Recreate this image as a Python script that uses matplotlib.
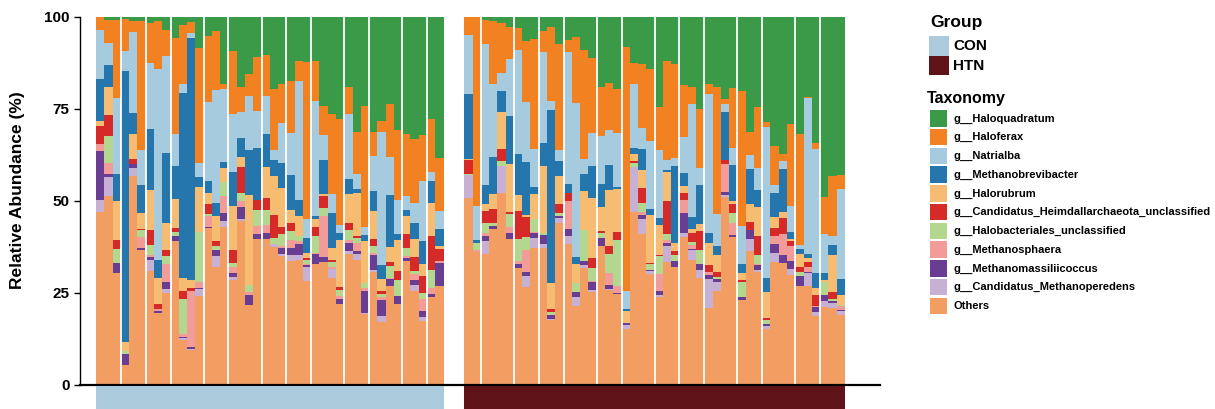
import numpy as np
import matplotlib.pyplot as plt
from matplotlib.patches import Rectangle

plt.rcParams['font.family'] = ['Liberation Sans', 'DejaVu Sans']
plt.rcParams['font.weight'] = 'bold'

# taxa, legend order (top of stack first)
taxa = ['g__Haloquadratum', 'g__Haloferax', 'g__Natrialba', 'g__Methanobrevibacter',
        'g__Halorubrum', 'g__Candidatus_Heimdallarchaeota_unclassified',
        'g__Halobacteriales_unclassified', 'g__Methanosphaera',
        'g__Methanomassiliicoccus', 'g__Candidatus_Methanoperedens', 'Others']
colors = ['#3A9A47', '#F28121', '#A6CBDE', '#2676AE', '#F6BC72', '#D62A28',
          '#B3D78F', '#F19C99', '#693D92', '#C6B1D4', '#F29E63']

groups = ['CON', 'HTN']
group_colors = ['#ABCADB', '#5E1318']
# samples per subject block (white separators between blocks)
con_blocks = [3, 3, 3, 4, 3, 4, 3, 3, 4, 3, 4, 3, 2]
htn_blocks = [2, 4, 3, 3, 4, 3, 4, 3, 3, 4, 3, 4, 3, 3]

# relative abundance (%) per sample: 42 CON followed by 46 HTN
haloquadratum = [0, 0.8, 0.8, 0.5, 1.1, 1.1, 1.6, 1.1, 3.5, 5.7, 2.2, 1.4, 8.4, 5.2, 3.8, 18.2, 9.2, 19.0, 15.5, 10.9, 10.3,
                 19.6, 18.2, 17.4, 12.0, 12.2, 12.0, 24.2, 26.4, 27.7, 19.0, 31.3, 24.2, 31.3, 28.3, 23.6, 30.7, 31.8, 33.2, 32.1, 27.7, 38.3,
                 0, 0, 0.8, 1.1, 1.6, 2.7, 3.0, 6.5, 6.0, 3.8, 2.7, 7.3, 6.3, 5.4, 9.0, 11.1, 19.0, 17.9, 19.6, 8.2, 12.5, 12.8, 14.1,
                 24.5, 12.0, 12.8, 18.5, 19.0, 25.0, 18.2, 19.0, 22.3, 19.3, 20.1, 31.3, 24.5, 28.5, 35.1, 37.2, 29.1, 31.8, 21.7, 34.2, 48.9, 43.2, 42.9]
haloferax = [3.5, 6.3, 21.2, 8.7, 3.0, 35.1, 10.9, 13.0, 7.1, 26.1, 16.0, 3.0, 31.3, 17.9, 16.0, 1.4, 17.1, 6.8, 6.0, 14.7, 11.1,
             16.6, 10.6, 13.9, 5.4, 42.7, 10.9, 7.9, 21.7, 28.8, 7.3, 11.4, 32.9, 6.5, 3.0, 14.4, 19.0, 16.8, 17.4, 12.5, 14.4, 14.4,
             4.9, 51.4, 6.5, 17.1, 13.6, 8.7, 6.0, 16.6, 29.9, 5.7, 20.1, 28.8, 3.3, 17.9, 29.6, 20.4, 13.3, 12.8, 12.0, 66.3, 5.7, 17.4, 19.6,
             11.7, 26.9, 25.5, 14.1, 4.6, 16.0, 2.7, 34.6, 1.4, 16.3, 36.7, 6.3, 16.6, 1.4, 10.6, 1.9, 22.3, 30.2, 0.3, 1.6, 10.1, 16.3, 3.8]
natrialba = [13.3, 6.0, 20.7, 5.4, 22.0, 9.5, 17.9, 51.6, 26.4, 8.7, 2.4, 1.4, 3.8, 21.2, 30.7, 19.8, 15.8, 7.1, 14.7, 10.1, 10.3,
             2.7, 10.9, 11.4, 32.1, 4.9, 31.0, 6.8, 5.2, 2.2, 17.7, 4.1, 2.2, 9.5, 36.1, 10.3, 9.2, 3.8, 5.4, 16.3, 2.4, 4.9,
             16.0, 9.2, 38.3, 19.8, 4.9, 15.5, 28.3, 16.3, 10.3, 24.7, 2.4, 3.0, 35.9, 41.8, 4.1, 9.0, 13.0, 9.5, 14.7, 4.9, 17.4, 5.7, 18.5,
             18.5, 2.7, 2.2, 9.8, 30.7, 4.6, 37.8, 8.7, 2.2, 4.6, 10.3, 3.8, 6.0, 41.0, 2.2, 2.2, 7.1, 1.1, 42.4, 33.7, 10.6, 2.4, 24.5]
methanobrevibacter = [11.4, 6.0, 7.3, 73.6, 5.7, 7.6, 16.6, 4.9, 19.0, 9.0, 50.0, 65.8, 2.7, 3.3, 3.5, 1.6, 9.0, 5.2, 12.2, 14.1, 9.0,
                      4.1, 6.8, 9.5, 4.3, 4.1, 0.8, 9.2, 9.5, 1.9, 4.1, 1.1, 1.6, 5.4, 3.8, 14.1, 1.6, 1.6, 4.3, 6.3, 6.0, 4.6,
                      17.7, 0.8, 5.2, 10.1, 5.7, 13.0, 11.1, 14.4, 1.9, 6.3, 47.0, 4.1, 2.2, 1.9, 4.6, 8.7, 6.3, 6.8, 0.5, 0.5, 1.6, 5.7, 1.6,
                      1.9, 0.5, 20.9, 3.5, 3.3, 10.6, 2.7, 2.4, 13.0, 9.8, 2.4, 9.5, 4.6, 3.8, 6.5, 11.7, 1.9, 1.4, 1.1, 4.1, 1.9, 2.7, 4.3]
halorubrum = [1.4, 7.6, 10.6, 2.4, 6.8, 4.3, 10.9, 7.1, 7.1, 7.9, 3.5, 2.2, 12.2, 3.0, 6.8, 3.8, 12.0, 2.7, 24.5, 0, 8.4,
              10.6, 10.6, 3.5, 5.4, 1.4, 2.2, 0.5, 3.3, 12.8, 7.9, 11.7, 11.4, 7.6, 3.3, 4.1, 8.4, 4.9, 4.9, 3.3, 9.0, 0.8,
              0.3, 0, 1.9, 4.1, 10.1, 13.0, 4.3, 0.5, 6.8, 18.2, 7.1, 7.6, 0, 5.4, 10.6, 16.3, 6.5, 15.2, 11.7, 3.3, 1.9, 4.9, 13.0,
              7.9, 7.9, 2.2, 1.9, 1.1, 1.9, 6.0, 4.6, 0, 0.8, 1.9, 4.9, 7.9, 7.1, 3.0, 1.6, 0.5, 3.5, 1.1, 1.9, 0.5, 10.1, 2.7]
heimdallarchaeota = [4.9, 5.7, 2.4, 0, 1.4, 0.3, 4.1, 1.4, 1.6, 1.1, 2.2, 0.8, 0, 2.7, 1.4, 0, 3.5, 6.8, 0, 2.7, 3.3,
                     6.3, 1.9, 2.4, 0, 0.5, 2.4, 3.3, 0.5, 0.8, 1.9, 0.5, 0, 1.9, 0.8, 1.1, 2.7, 3.8, 3.8, 4.6, 9.2, 3.3,
                     3.8, 0, 3.3, 3.8, 3.3, 0.5, 7.6, 5.4, 0, 0, 0.8, 2.4, 2.4, 0, 0, 2.7, 0.5, 2.2, 2.2, 0, 0.5, 4.1, 0.3,
                     0.5, 9.0, 1.1, 1.9, 2.4, 5.2, 1.9, 1.4, 1.1, 2.4, 0.5, 2.2, 5.2, 0.5, 2.2, 4.3, 1.4, 1.4, 1.4, 3.0, 0, 1.9, 0]
halobacteriales = [0, 7.3, 3.8, 0.8, 0, 1.9, 2.7, 0, 2.2, 1.1, 9.5, 0, 13.6, 0.5, 1.1, 3.8, 1.1, 2.4, 1.9, 4.3, 4.1,
                   1.6, 3.3, 2.2, 1.6, 1.1, 4.6, 2.2, 1.6, 1.6, 2.7, 1.4, 1.4, 1.9, 0.8, 3.3, 4.1, 2.2, 0.8, 1.6, 4.9, 0,
                   0.3, 1.9, 2.7, 0.8, 1.4, 3.8, 6.0, 3.5, 3.5, 0.5, 0.8, 0.8, 0, 2.2, 8.4, 3.5, 1.4, 5.2, 12.5, 0, 1.1, 2.4, 1.6,
                   4.9, 1.6, 1.6, 0, 0.8, 3.8, 0, 0.5, 0, 2.7, 4.3, 0, 2.2, 1.1, 0, 0, 0, 1.1, 0, 0, 3.5, 0.5, 0.3]
methanosphaera = [1.9, 3.0, 0, 0, 0, 3.0, 0.5, 0.5, 4.9, 0, 0.8, 15.2, 1.6, 3.0, 0, 4.6, 1.6, 1.4, 0.8, 2.2, 2.2,
                  0, 0.5, 2.4, 0.8, 0.3, 0.3, 11.1, 0.5, 0.8, 0.8, 2.2, 0.8, 0.5, 0.8, 0.3, 0, 0.5, 1.6, 3.3, 1.6, 0.5,
                  0, 0.5, 0.8, 0, 0, 1.4, 0.8, 6.0, 0.3, 0, 0, 0, 7.6, 0, 0, 0.3, 0, 3.3, 1.9, 0, 0, 0.8, 0,
                  4.6, 0.8, 0, 3.5, 1.1, 0, 0.8, 0, 7.6, 3.3, 0, 0, 0.3, 0, 2.2, 5.7, 4.1, 0, 1.4, 0.3, 0, 0, 1.1]
methanomassiliicoccus = [13.3, 0.8, 2.7, 3.0, 1.1, 0.5, 0.8, 0.5, 1.9, 1.4, 0.3, 0.5, 0.3, 0.5, 1.6, 2.2, 1.1, 3.5, 2.7, 1.4, 1.4,
                         0, 1.6, 1.9, 3.0, 0.5, 2.7, 1.4, 0, 1.4, 2.2, 0.8, 6.0, 4.1, 4.3, 1.9, 2.4, 0.8, 1.4, 1.4, 0.8, 6.3,
                         0, 0, 1.4, 0.8, 0, 1.6, 1.1, 1.1, 1.4, 2.4, 1.1, 0.5, 1.9, 1.6, 1.1, 2.2, 2.2, 1.1, 0.3, 0.5, 0, 1.1, 0.3,
                         1.1, 0.8, 1.6, 5.4, 0.3, 1.6, 1.1, 0.8, 0.8, 0.5, 0.8, 2.2, 1.4, 0.5, 2.2, 2.2, 2.2, 2.7, 0.3, 1.4, 1.6, 0.5, 0.3]
methanoperedens = [3.3, 5.2, 0, 0, 2.2, 0, 3.0, 0, 1.1, 0, 0.5, 0.3, 1.9, 0, 3.0, 1.6, 0.8, 0.3, 0, 0, 0,
                   0.8, 0.5, 1.4, 1.1, 3.8, 0, 0, 2.5, 0, 0.8, 1.6, 0.3, 0.5, 1.6, 0, 0, 0, 1.6, 1.1, 0, 0,
                   6.3, 0, 3.5, 0, 7.3, 0, 0, 3.0, 2.7, 1.1, 0.3, 1.6, 2.2, 2.4, 0.8, 0.5, 0, 0.3, 0, 1.1, 12.2, 4.1, 0.8,
                   0.5, 4.3, 0, 1.1, 2.7, 2.2, 7.9, 2.4, 0.5, 0, 0, 3.3, 0.5, 0.8, 2.7, 0, 1.6, 0, 3.3, 1.1, 1.6, 1.6, 1.1]
others = [47.0, 51.4, 30.4, 5.4, 56.8, 36.7, 31.0, 19.6, 25.0, 39.1, 12.2, 9.5, 24.2, 42.4, 32.1, 42.9, 28.5, 44.6, 21.7, 39.7, 39.7,
          37.5, 35.1, 33.7, 34.0, 28.3, 32.9, 33.4, 29.0, 22.0, 35.6, 33.9, 19.2, 30.8, 17.1, 26.9, 21.9, 33.8, 25.6, 17.5, 24.0, 26.9,
          50.7, 36.2, 35.6, 42.4, 52.1, 39.8, 31.8, 26.7, 37.2, 37.3, 17.7, 43.9, 38.2, 21.4, 31.8, 25.3, 37.8, 25.7, 24.6, 15.2, 47.1, 41.0, 30.2,
          23.8, 33.5, 32.1, 40.3, 34.0, 29.1, 20.9, 25.6, 51.1, 40.3, 23.0, 36.5, 30.8, 15.3, 33.3, 33.2, 29.8, 26.8, 27.0, 18.7, 21.3, 20.8, 19.0]

series = [haloquadratum, haloferax, natrialba, methanobrevibacter, halorubrum, heimdallarchaeota,
          halobacteriales, methanosphaera, methanomassiliicoccus, methanoperedens, others]
vals = np.array(series, dtype=float)
vals = vals / vals.sum(axis=0) * 100  # each sample sums to 100 %

n_con = sum(con_blocks)
n_htn = sum(htn_blocks)
gap = 2.5
xpos = np.concatenate([np.arange(n_con), n_con + gap + np.arange(n_htn)])

W, H = 1215, 409
fig = plt.figure(figsize=(W / 100, H / 100), dpi=100)
ax = fig.add_axes([80 / W, 1 - 385 / H, 800 / W, 368 / H])

bottom = np.zeros(len(xpos))
for k in range(len(taxa) - 1, -1, -1):
    ax.bar(xpos, vals[k], width=1.0, bottom=bottom, align='edge', color=colors[k], linewidth=0)
    bottom += vals[k]

# white separators between subject blocks
for start, blocks in [(0, con_blocks), (n_con + gap, htn_blocks)]:
    for edge in np.cumsum(blocks)[:-1]:
        ax.plot([start + edge] * 2, [0, 100], color='white', lw=1.3)

ax.set_xlim(-16 / 8.26, n_con + gap + n_htn + 35 / 8.26)
ax.set_ylim(0, 100)
ax.set_yticks([0, 25, 50, 75, 100])
ax.tick_params(axis='y', labelsize=11, length=4, width=1)
ax.set_xticks([])
for s in ['top', 'right']:
    ax.spines[s].set_visible(False)
ax.spines['left'].set_linewidth(1)
ax.spines['bottom'].set_linewidth(1.6)
for t in ax.get_yticklabels():
    t.set_fontweight('bold')
fig.text(18 / W, 1 - 190 / H, 'Relative Abundance (%)', rotation=90, ha='center', va='center',
         fontsize=12.5, fontweight='bold')

# group strip under the bars
sx = fig.add_axes([80 / W, 0, 800 / W, 23 / H])
sx.set_xlim(ax.get_xlim())
sx.set_ylim(0, 1)
sx.axis('off')
sx.axvspan(0, n_con, color=group_colors[0], lw=0)
sx.axvspan(n_con + gap, n_con + gap + n_htn, color=group_colors[1], lw=0)

# legends
def px_rect(x, y, w, h, c):
    fig.patches.append(Rectangle((x / W, 1 - (y + h) / H), w / W, h / H, transform=fig.transFigure,
                                 color=c, lw=0))

fig.text(930 / W, 1 - 22 / H, 'Group', fontsize=12.5, fontweight='bold', va='center', ha='left')
for i, g in enumerate(groups):
    px_rect(929, 36 + i * 19.5, 20, 19.5, group_colors[i])
    fig.text(953 / W, 1 - (46 + i * 19.5) / H, g, fontsize=11, fontweight='bold', va='center', ha='left')

fig.text(927 / W, 1 - 98 / H, 'Taxonomy', fontsize=11.5, fontweight='bold', va='center', ha='left')
for i, name in enumerate(taxa):
    y0 = 110 + i * 18.77
    px_rect(930, y0, 17, 16.5, colors[i])
    fig.text(953 / W, 1 - (y0 + 8.5) / H, name, fontsize=8, fontweight='bold', va='center', ha='left')

fig.savefig('out.png', dpi=100)
